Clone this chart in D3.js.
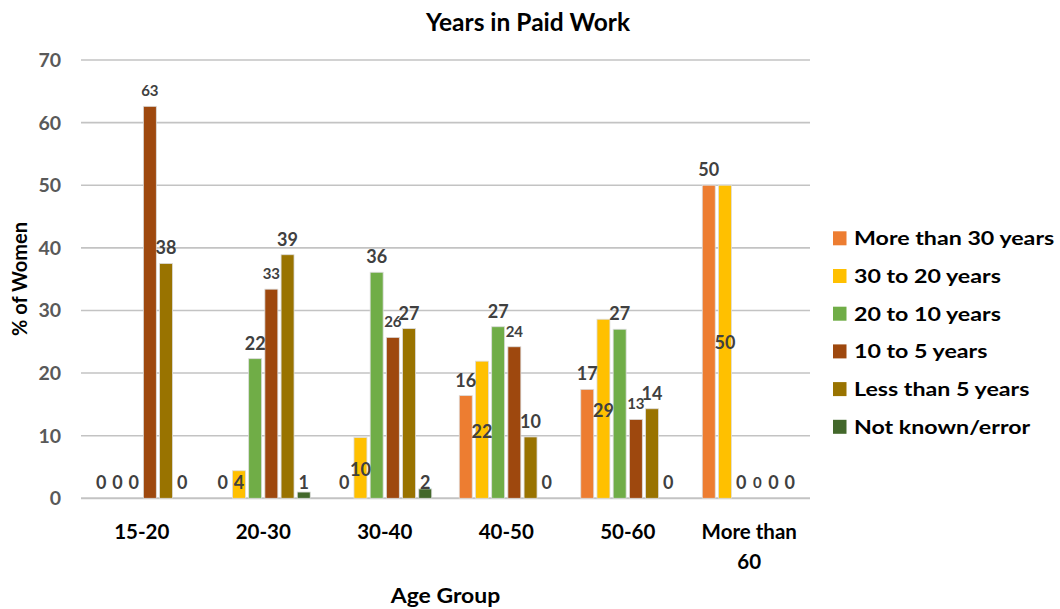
<!DOCTYPE html>
<html>
<head>
<meta charset="utf-8">
<script src="https://cdn.jsdelivr.net/npm/d3@7"></script>
<style>
  body { margin: 0; background: #fff; }
  svg { display: block; font-family: Lato, 'Open Sans', sans-serif; font-weight: bold; }
</style>
</head>
<body>
<script>
width = 1060;
height = 609;

const categories = ['15-20', '20-30', '30-40', '40-50', '50-60', 'More than 60'];
const seriesNames = ['More than 30 years', '30 to 20 years', '20 to 10 years', '10 to 5 years', 'Less than 5 years', 'Not known/error'];
const moreThan30 = [0, 0, 0, 16.4, 17.4, 50];
const from30to20 = [0, 4.4, 9.7, 21.9, 28.6, 50];
const from20to10 = [0, 22.3, 36.1, 27.4, 27, 0];
const from10to5 = [62.6, 33.4, 25.7, 24.2, 12.6, 0];
const lessThan5 = [37.5, 38.9, 27.1, 9.8, 14.3, 0];
const notKnown = [0, 1, 1.5, 0, 0, 0];
const yTicks = [0, 10, 20, 30, 40, 50, 60, 70];

const seriesValues = [moreThan30, from30to20, from20to10, from10to5, lessThan5, notKnown];
const colors = ['#ed7d31', '#ffc000', '#70ad47', '#9e480e', '#997300', '#43682b'];

// a few labels were dragged inside/below their bar in the original (centre given in value units)
const movedLabels = {
  '1|20-30': 2.5,
  '1|30-40': 4.6,
  '5|20-30': 2.5,
  '5|30-40': 2.5,
  '1|40-50': 10.6,
  '1|50-60': 14,
  '1|More than 60': 24.8
};

function main() {
  const svg = d3.select('body').append('svg').attr('width', width).attr('height', height);

  const x0 = d3.scaleBand().domain(categories).range([81, 810]).paddingInner(0.2).paddingOuter(0.1);
  const x1 = d3.scaleBand().domain(d3.range(seriesNames.length)).range([0, x0.bandwidth()]).paddingInner(0.2).paddingOuter(0.1);
  const y = d3.scaleLinear().domain([0, 70]).range([498.3, 60]);

  // gridlines
  svg.append('g')
    .selectAll('line')
    .data(yTicks)
    .enter()
    .append('line')
    .attr('x1', 81)
    .attr('x2', 810)
    .attr('y1', d => y(d))
    .attr('y2', d => y(d))
    .attr('stroke', '#c3c3c3')
    .attr('stroke-width', d => (d === 0 ? 2 : 1.6));

  // y tick labels
  svg.append('g')
    .selectAll('text')
    .data(yTicks)
    .enter()
    .append('text')
    .attr('x', 61)
    .attr('y', d => y(d))
    .attr('dy', '0.36em')
    .attr('text-anchor', 'end')
    .attr('fill', '#595959')
    .style('font-size', '19.5px')
    .text(d => d);

  // x category labels (wrapped like Excel)
  const xl = svg.append('g')
    .selectAll('text')
    .data(categories)
    .enter()
    .append('text')
    .attr('x', d => x0(d) + x0.bandwidth() / 2)
    .attr('y', 532)
    .attr('text-anchor', 'middle')
    .attr('fill', '#000')
    .style('font-size', '20.5px');
  xl.each(function (d) {
    const parts = d === 'More than 60' ? ['More than', '60'] : [d];
    const t = d3.select(this);
    parts.forEach((p, i) => {
      t.append('tspan')
        .attr('x', x0(d) + x0.bandwidth() / 2)
        .attr('dy', i === 0 ? '0.36em' : 30)
        .text(p);
    });
  });

  // bars
  const groups = svg.append('g')
    .selectAll('g')
    .data(categories)
    .enter()
    .append('g')
    .attr('transform', d => `translate(${x0(d)},0)`);

  groups.selectAll('rect')
    .data((c, ci) => seriesValues.map((vals, si) => ({ si, c, v: vals[ci] })))
    .enter()
    .append('rect')
    .attr('x', d => x1(d.si))
    .attr('width', x1.bandwidth())
    .attr('y', d => y(d.v))
    .attr('height', d => y(0) - y(d.v))
    .attr('fill', d => colors[d.si])
    .attr('stroke', d => (d.v > 0 ? '#dcdcdc' : 'none'))
    .attr('stroke-width', 0.8);

  // data labels
  groups.selectAll('text')
    .data((c, ci) => seriesValues.map((vals, si) => ({ si, c, v: vals[ci] })))
    .enter()
    .append('text')
    .attr('x', d => x1(d.si) + x1.bandwidth() / 2)
    .attr('y', d => {
      const key = d.si + '|' + d.c;
      if (movedLabels[key] !== undefined) return y(movedLabels[key]);
      return y(d.v) - 15.5;
    })
    .attr('dy', '0.36em')
    .attr('text-anchor', 'middle')
    .attr('fill', '#404040')
    .style('font-size', d => (d.si === 3 ? '15px' : '18px'))
    .text(d => Math.round(d.v));

  // titles
  svg.append('text')
    .attr('x', 528)
    .attr('y', 22)
    .attr('dy', '0.36em')
    .attr('text-anchor', 'middle')
    .attr('fill', '#000')
    .style('font-size', '24.5px')
    .text('Years in Paid Work');

  svg.append('text')
    .attr('transform', 'translate(445.5,596) scale(1.12,1)')
    .attr('dy', '0.36em')
    .attr('text-anchor', 'middle')
    .attr('fill', '#000')
    .style('font-size', '20.5px')
    .text('Age Group');

  svg.append('text')
    .attr('transform', 'translate(20,279) rotate(-90)')
    .attr('dy', '0.36em')
    .attr('text-anchor', 'middle')
    .attr('fill', '#000')
    .style('font-size', '20px')
    .text('% of Women');

  createLegend(svg);
}

function createLegend(svg) {
  const legendX = 833;
  const legendY = 238.3;
  const spacing = 37.7;

  const legend = svg.append('g').attr('id', 'legend');

  legend.selectAll('rect')
    .data(seriesNames)
    .enter()
    .append('rect')
    .attr('x', legendX)
    .attr('y', (_, i) => legendY + i * spacing - 7)
    .attr('width', 13.5)
    .attr('height', 14)
    .attr('fill', (_, i) => colors[i]);

  // original legend text is drawn wider than its height suggests
  legend.selectAll('text')
    .data(seriesNames)
    .enter()
    .append('text')
    .attr('transform', (_, i) => `translate(${legendX + 21},${legendY + i * spacing}) scale(1.19,1)`)
    .attr('dy', '0.36em')
    .attr('fill', '#000')
    .style('font-size', '19.5px')
    .text(d => d);
}

main();
</script>
</body>
</html>
